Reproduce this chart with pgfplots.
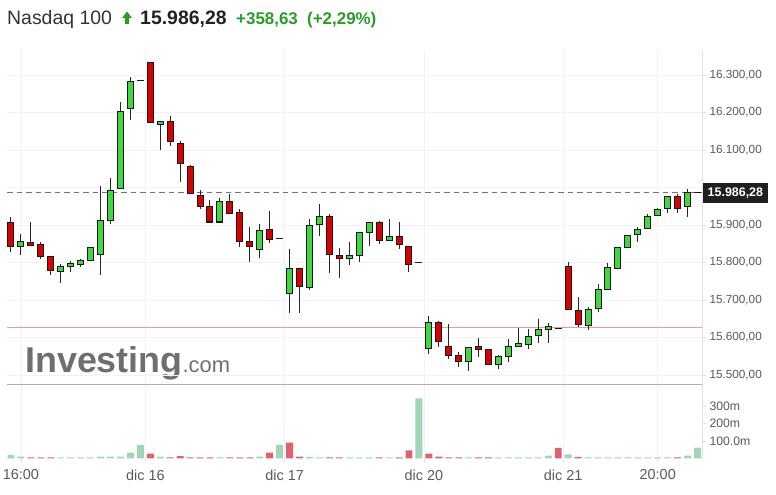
\documentclass[border=0pt]{standalone}
\usepackage{pgfplots}
\pgfplotsset{compat=1.18}
\usepackage{pgfplotstable}
\usepackage{fontspec}
\setmainfont{Liberation Sans}
\definecolor{cgreen}{RGB}{66,214,66}
\definecolor{cred}{RGB}{216,0,0}
\definecolor{vgreen}{RGB}{160,214,180}
\definecolor{vred}{RGB}{224,98,110}
\definecolor{tgreen}{RGB}{40,158,40}
\definecolor{tickgray}{RGB}{90,90,90}
\definecolor{gridgray}{RGB}{242,242,242}
\definecolor{sepgray}{RGB}{175,175,175}
\definecolor{rightgray}{RGB}{225,225,225}
\definecolor{pinkline}{RGB}{238,150,165}

% i open high low close volume(m) volume-up
\pgfplotstableread{
i o h l c v vu
0 15906 15920 15829 15842 19 1
1 15842 15875 15820 15856 10 1
2 15853 15907 15845 15846 5 0
3 15849 15855 15810 15815 5 0
4 15815 15815 15766 15779 5 0
5 15775 15795 15746 15789 5 1
6 15788 15804 15775 15796 5 1
7 15795 15809 15789 15806 5 1
8 15805 15840 15803 15839 5 1
9 15822 16005 15766 15913 10 1
10 15911 16025 15903 15992 10 1
11 15998 16227 15998 16203 10 1
12 16211 16294 16180 16282 33 1
13 16286 16286 16286 16286 77 1
14 16333 16335 16173 16173 27 0
15 16169 16176 16100 16176 10 1
16 16175 16190 16112 16122 5 0
17 16118 16125 16014 16063 12 0
18 16056 16060 15983 15983 5 0
19 15979 15993 15942 15949 5 0
20 15950 15967 15908 15908 5 0
21 15908 15971 15908 15962 5 1
22 15962 15983 15931 15931 5 0
23 15933 15942 15842 15855 5 0
24 15857 15895 15802 15842 5 0
25 15835 15903 15813 15885 10 1
26 15889 15938 15853 15862 33 0
27 15863 15863 15863 15863 77 1
28 15718 15835 15666 15783 90 0
29 15783 15786 15666 15735 10 0
30 15734 15915 15727 15899 8 1
31 15902 15955 15871 15922 5 1
32 15922 15928 15773 15822 5 0
33 15818 15838 15759 15811 5 0
34 15811 15855 15793 15818 5 1
35 15818 15879 15800 15879 5 1
36 15881 15906 15844 15906 5 1
37 15906 15911 15849 15858 5 0
38 15858 15915 15858 15869 5 1
39 15869 15907 15836 15847 5 0
40 15842 15842 15775 15795 46 0
41 15799 15799 15799 15799 347 1
42 15571 15657 15555 15639 27 0
43 15639 15645 15574 15589 10 0
44 15575 15635 15543 15551 5 0
45 15551 15560 15522 15535 5 0
46 15535 15574 15511 15573 5 1
47 15577 15598 15549 15569 5 0
48 15569 15569 15528 15528 5 0
49 15528 15553 15516 15549 5 1
50 15549 15595 15535 15575 5 1
51 15575 15624 15575 15583 5 1
52 15582 15622 15568 15602 5 1
53 15605 15650 15586 15622 5 1
54 15622 15638 15586 15629 15 1
55 15625 15625 15625 15625 60 0
56 15789 15800 15675 15675 23 1
57 15671 15707 15627 15635 8 0
58 15633 15680 15620 15675 5 1
59 15676 15742 15669 15728 5 1
60 15729 15799 15729 15786 5 1
61 15785 15839 15782 15839 5 1
62 15840 15872 15840 15872 5 1
63 15875 15894 15855 15889 5 1
64 15891 15928 15891 15922 5 1
65 15925 15946 15925 15942 5 1
66 15944 15977 15933 15975 5 1
67 15975 15982 15933 15944 5 0
68 15949 15995 15920 15986 15 1
69 15986.28 15986.28 15986.28 15986.28 62 1
}\candles

% previous close reference line
\pgfplotstableread{
x y
-0.402 15627.65
69.45 15627.65
}\prevclose
% last price reference line
\pgfplotstableread{
x y
-0.402 15986.28
69.45 15986.28
}\lastprice

\begin{document}
\begin{tikzpicture}
\path[use as bounding box] (0,0) rectangle (776bp,495bp);

% ---------- watermark ----------
\node[anchor=base west, inner sep=0, text={rgb,255:red,110;green,110;blue,110}]
  at (25bp,122bp) {{\bfseries\fontsize{36}{38}\selectfont Investing}{\fontsize{22}{24}\selectfont .com}};

% ---------- price panel ----------
\begin{axis}[
  at={(7bp,110bp)}, anchor=south west, scale only axis,
  width=695bp, height=335bp,
  xmin=-0.402, xmax=69.45, ymin=15473.3, ymax=16366.7,
  scaled y ticks=false, scaled x ticks=false,
  axis x line*=bottom, axis y line*=right,
  axis line style={-},
  x axis line style={draw=sepgray, line width=1bp},
  y axis line style={draw=rightgray, line width=1bp},
  xtick={1,13.5,27.5,41.5,55.5,65}, xticklabels={},
  xtick style={draw=none},
  ytick={15500,15600,15700,15800,15900,16000,16100,16200,16300},
  yticklabels={{15.500,00},{15.600,00},{15.700,00},{15.800,00},{15.900,00},{},{16.100,00},{16.200,00},{16.300,00}},
  tick align=outside, major tick length=4bp,
  ytick style={draw=rightgray, line width=0.8bp},
  yticklabel style={font=\fontsize{11.8}{12}\selectfont, text=tickgray},
  xmajorgrids, ymajorgrids, grid style={gridgray, line width=0.8bp},
  clip=false,
]
\addplot[pinkline, line width=1.2bp, mark=none, forget plot] table[x=x, y=y] {\prevclose};
\addplot[color={rgb,255:red,115;green,115;blue,115}, line width=1.6bp, dash pattern=on 5.5bp off 4bp, mark=none, forget plot]
  table[x=x, y=y] {\lastprice};
% wicks
\addplot[draw=none, mark=none, forget plot,
  error bars/.cd, y dir=minus, y explicit, error mark=none,
  error bar style={draw=black!85, line width=1bp}]
  table[x=i, y=h, y error minus expr={\thisrow{h}-\thisrow{l}}] {\candles};
% body outlines
\addplot[draw=none, mark=none, forget plot,
  error bars/.cd, y dir=minus, y explicit, error mark=none,
  error bar style={draw=black!90, line width=7bp}]
  table[x=i, y expr={max(\thisrow{o},\thisrow{c})+1.33},
        y error minus expr={abs(\thisrow{c}-\thisrow{o})+2.67}] {\candles};
% green bodies
\addplot[draw=none, mark=none, forget plot,
  restrict expr to domain={\thisrow{c}-\thisrow{o}}{0.01:100000},
  error bars/.cd, y dir=minus, y explicit, error mark=none,
  error bar style={draw=cgreen, line width=5bp}]
  table[x=i, y expr={max(\thisrow{o},\thisrow{c})-1.33},
        y error minus expr={max(abs(\thisrow{c}-\thisrow{o})-2.67,0)}] {\candles};
% red bodies
\addplot[draw=none, mark=none, forget plot,
  restrict expr to domain={\thisrow{c}-\thisrow{o}}{-100000:-0.01},
  error bars/.cd, y dir=minus, y explicit, error mark=none,
  error bar style={draw=cred, line width=5bp}]
  table[x=i, y expr={max(\thisrow{o},\thisrow{c})-1.33},
        y error minus expr={max(abs(\thisrow{c}-\thisrow{o})-2.67,0)}] {\candles};
\node[anchor=west, xshift=1bp, fill=black!88, text=white, inner xsep=4.5bp, inner ysep=4.5bp,
  text height=9bp, text depth=2bp, font=\bfseries\fontsize{12.5}{13}\selectfont]
  at (axis cs:69.45,15986.28) {15.986,28};
\end{axis}

% ---------- volume panel ----------
\begin{axis}[
  at={(7bp,36.7bp)}, anchor=south west, scale only axis,
  width=695bp, height=73.3bp,
  xmin=-0.402, xmax=69.45, ymin=0, ymax=423.7,
  scaled y ticks=false,
  axis x line*=bottom, axis y line*=right,
  axis line style={-},
  x axis line style={draw=none},
  y axis line style={draw=rightgray, line width=1bp},
  xtick={1,13.5,27.5,41.5,55.5,65},
  xticklabels={16:00,dic 16,dic 17,dic 20,dic 21,20:00},
  ytick={100,200,300}, yticklabels={100.0m,200m,300m},
  tick align=outside, major tick length=4bp,
  xtick style={draw=rightgray, line width=0.8bp},
  ytick style={draw=rightgray, line width=0.8bp},
  xticklabel style={font=\fontsize{14.5}{15}\selectfont, text=tickgray, anchor=north, yshift=-4bp},
  yticklabel style={font=\fontsize{12.3}{13}\selectfont, text=tickgray},
  xmajorgrids, grid style={gridgray, line width=0.8bp},
]
\addplot[ybar, bar width=0.7, bar shift=0pt, draw=none, fill=vgreen,
  restrict expr to domain={\thisrow{vu}}{0.5:1.5}] table[x=i, y=v] {\candles};
\addplot[ybar, bar width=0.7, bar shift=0pt, draw=none, fill=vred,
  restrict expr to domain={\thisrow{vu}}{-0.5:0.5}] table[x=i, y=v] {\candles};
\end{axis}

% ---------- title ----------
\node[anchor=base west, inner sep=0, text={rgb,255:red,51;green,51;blue,51},
  font=\fontsize{19.5}{20}\selectfont] at (7bp,470bp) {Nasdaq 100};
\fill[tgreen] (122bp,477bp) -- (127bp,483.5bp) -- (132bp,477bp) -- (129.2bp,477bp)
  -- (129.2bp,471bp) -- (124.8bp,471bp) -- (124.8bp,477bp) -- cycle;
\node[anchor=base west, inner sep=0, text={rgb,255:red,34;green,34;blue,34},
  font=\bfseries\fontsize{19.5}{20}\selectfont] at (140bp,470bp) {15.986,28};
\node[anchor=base west, inner sep=0, text=tgreen,
  font=\bfseries\fontsize{17}{18}\selectfont] at (236bp,470bp) {+358,63};
\node[anchor=base west, inner sep=0, text=tgreen,
  font=\bfseries\fontsize{17}{18}\selectfont] at (307bp,470bp) {(+2,29\%)};
\end{tikzpicture}
\end{document}
